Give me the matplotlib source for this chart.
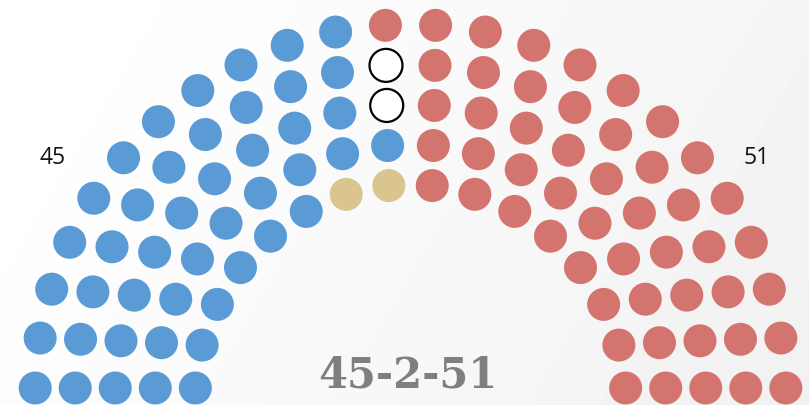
import matplotlib
matplotlib.use("Agg")
import matplotlib.pyplot as plt
import numpy as np
from matplotlib.patches import Circle

# seats per row, outer row first
row_sizes = [24, 22, 20, 18, 16]

# seats of each party in each row (outer -> inner), filled left to right
party_names = ["Democrats", "Independents", "Vacant", "Republicans"]
dem_seats = [11, 10, 9, 9, 6]
ind_seats = [0, 0, 0, 0, 2]
vac_seats = [0, 1, 1, 0, 0]
rep_seats = [13, 11, 10, 9, 8]

totals_label = "45-2-51"
left_label = "45"
right_label = "51"

face_colors = ["#5B9BD5", "#DAC58E", "white", "#D3756E"]
edge_colors = ["none", "none", "black", "none"]

W, H = 809, 405
fig = plt.figure(figsize=(W / 100, H / 100), dpi=100)
ax = fig.add_axes([0, 0, 1, 1])
ax.set_xlim(0, W)
ax.set_ylim(H, 0)
ax.axis("off")

# soft background gradient (white top-left -> light grey right)
xx, yy = np.meshgrid(np.linspace(0, 1, 200), np.linspace(0, 1, 100))
grad = 1.0 - 0.055 * np.clip(0.85 * xx + 0.25 * yy - 0.1, 0, 1)
ax.imshow(grad, cmap="gray", vmin=0, vmax=1, extent=[0, W, H, 0],
          aspect="auto", zorder=0, interpolation="bilinear")

cx, cy = 410.5, 400.0
radii = [375.5, 335.5, 295.5, 255.5, 215.5]
lift = 12.0
dot_r = 16.5

by_party = [dem_seats, ind_seats, vac_seats, rep_seats]
for k, n in enumerate(row_sizes):
    r = radii[k]
    t0 = np.arcsin(lift / r)
    ang = np.linspace(np.pi - t0, t0, n)
    xs = cx + r * np.cos(ang)
    ys = cy - r * np.sin(ang)
    owner = []
    for p in range(len(party_names)):
        owner += [p] * by_party[p][k]
    for x, y, p in zip(xs, ys, owner):
        ax.add_patch(Circle((x, y), dot_r, facecolor=face_colors[p],
                            edgecolor=edge_colors[p], linewidth=1.6, zorder=2))

ax.text(52.5, 158, left_label, fontsize=16.5, family="Open Sans",
        color="#111111", ha="center", va="center")
ax.text(756.5, 158, right_label, fontsize=16.5, family="Open Sans",
        color="#111111", ha="center", va="center")
ax.text(407.5, 387, totals_label, fontsize=30, family="DejaVu Serif",
        fontweight="bold", color="#7F7F7F", ha="center", va="baseline")

fig.savefig("out.png", dpi=100)
